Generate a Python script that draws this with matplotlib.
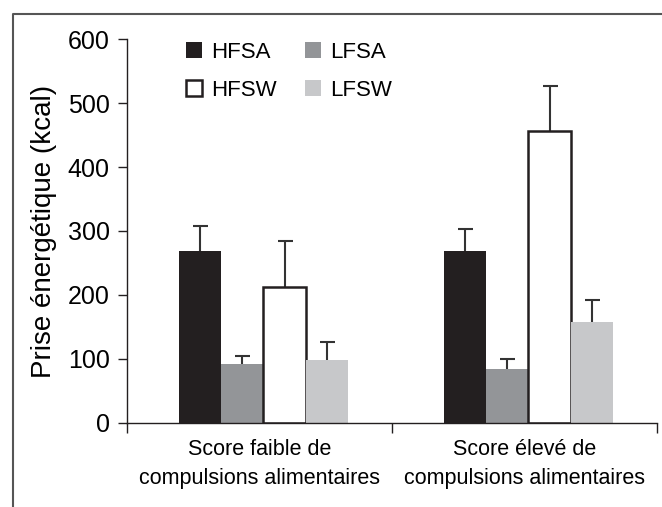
import numpy as np
import matplotlib
matplotlib.use('Agg')
from matplotlib import pyplot as plt
from matplotlib.lines import Line2D

plt.rcParams['font.family']=['Liberation Sans','DejaVu Sans']

# data
categories=['Score faible de\ncompulsions alimentaires',
            'Score élevé de\ncompulsions alimentaires']
series=['HFSA','LFSA','HFSW','LFSW']
means={'HFSA':[269,269],
       'LFSA':[92,84],
       'HFSW':[213,456],
       'LFSW':[98,158]}
errs={'HFSA':[39,34],
      'LFSA':[12,16],
      'HFSW':[71,71],
      'LFSW':[28,34]}
colors={'HFSA':'#231f20','LFSA':'#939598','HFSW':'white','LFSW':'#c7c8ca'}
yticks=[0,100,200,300,400,500,600]

W,H=662,507
fig=plt.figure(figsize=(W/100,H/100),dpi=100)
ax=fig.add_axes([127/W,1-422.7/H,530/W,383.4/H])

x=np.arange(len(categories))
width=0.16
offsets=[-0.24,-0.08,0.08,0.24]
handles={}
for s,off in zip(series,offsets):
    ec='#231f20' if s=='HFSW' else 'none'
    b=ax.bar(x+off+0.015,means[s],width=width,color=colors[s],edgecolor=ec,
             linewidth=1.8,zorder=2)
    # symmetric bars drawn under the bar, so only the upper half shows
    ax.errorbar(x+off+0.015,means[s],yerr=errs[s],fmt='none',
                ecolor='#333333',elinewidth=1.5,capsize=5.4,capthick=1.5,zorder=1)
    handles[s]=b

ax.set_xlim(-0.5,1.5)
ax.set_ylim(0,600)
ax.set_yticks(yticks)
ax.tick_params(axis='y',labelsize=18,length=6.5,width=1,color='#231f20',pad=6)
ax.set_xticks(x)
ax.set_xticklabels(categories,fontsize=15.5,linespacing=1.45)
ax.set_xticks([-0.5,0.5,1.5],minor=True)
ax.tick_params(axis='x',which='major',length=0,pad=12)
ax.tick_params(axis='x',which='minor',length=7,width=1,color='#231f20')
for sp in ['top','right']:
    ax.spines[sp].set_visible(False)
for sp in ['left','bottom']:
    ax.spines[sp].set_color('#231f20')
    ax.spines[sp].set_linewidth(1)
ax.set_ylabel('Prise énergétique (kcal)',fontsize=20,labelpad=8)

order=['HFSA','HFSW','LFSA','LFSW']
ax.legend([handles[s] for s in order],order,ncol=2,fontsize=16,frameon=False,
          loc='upper left',bbox_to_anchor=(186/W,1-42/H),bbox_transform=fig.transFigure,
          borderpad=0,borderaxespad=0,handlelength=0.72,handleheight=0.72,
          handletextpad=0.4,columnspacing=1.3,labelspacing=0.75)

# outer frame
fig.add_artist(Line2D([12.7/W,12.7/W,1],[0,1-14/H,1-14/H],transform=fig.transFigure,
                      color='#555555',linewidth=1.5))

plt.savefig('out.png',dpi=100)
